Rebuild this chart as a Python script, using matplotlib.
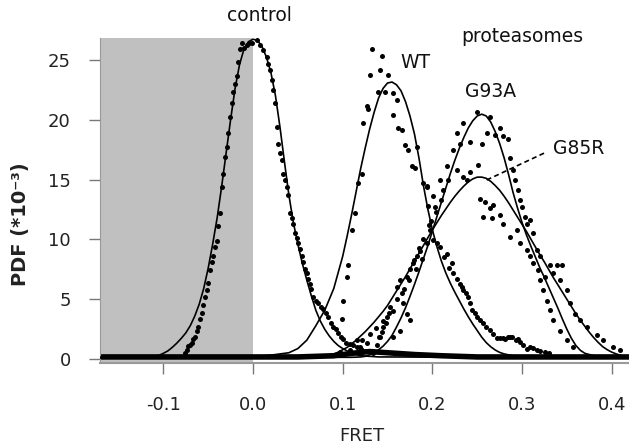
import matplotlib
matplotlib.use("Agg")
from matplotlib import pyplot as plt
from matplotlib.patches import Rectangle

# fitted curves (FRET, PDF*1e-3)
control_fit_x = [-0.170, -0.120, -0.110, -0.105, -0.100, -0.095, -0.090, -0.085, -0.080, -0.075,
                 -0.070, -0.065, -0.060, -0.055, -0.050, -0.045, -0.040, -0.035, -0.030, -0.025,
                 -0.020, -0.015, -0.010, -0.005, 0.000, 0.005, 0.010, 0.015, 0.020, 0.025,
                 0.030, 0.035, 0.040, 0.045, 0.050, 0.055, 0.060, 0.065, 0.070, 0.075,
                 0.080, 0.085, 0.090, 0.095, 0.100, 0.110, 0.120, 0.140, 0.419]
control_fit_y = [0.15, 0.2, 0.25, 0.33, 0.5, 0.7, 1.0, 1.35, 1.75, 2.2,
                 2.8, 3.6, 4.6, 5.9, 7.6, 9.6, 11.8, 14.4, 17.2, 20.0,
                 22.6, 24.6, 25.9, 26.5, 26.7, 26.6, 26.1, 25.2, 23.9, 22.0,
                 19.4, 16.5, 13.7, 11.4, 9.6, 8.0, 6.6, 5.3, 4.1, 3.2,
                 2.5, 1.95, 1.5, 1.15, 0.9, 0.5, 0.3, 0.2, 0.15]

wt_fit_x = [-0.170, 0.000, 0.020, 0.040, 0.050, 0.060, 0.070, 0.080, 0.090, 0.100,
            0.105, 0.110, 0.115, 0.120, 0.125, 0.130, 0.135, 0.140, 0.145, 0.150,
            0.155, 0.160, 0.165, 0.170, 0.175, 0.180, 0.185, 0.190, 0.195, 0.200,
            0.205, 0.210, 0.215, 0.220, 0.225, 0.230, 0.235, 0.240, 0.245, 0.250,
            0.255, 0.260, 0.265, 0.270, 0.275, 0.280, 0.290, 0.300, 0.419]
wt_fit_y = [0.15, 0.2, 0.35, 0.55, 0.9, 1.6, 2.8, 4.1, 5.9, 8.6,
            10.3, 12.1, 14.0, 15.9, 17.6, 19.2, 20.6, 21.8, 22.6, 23.05,
            23.13, 22.9, 22.4, 21.5, 20.3, 18.8, 16.8, 14.5, 12.5, 10.8,
            9.4, 8.2, 7.2, 6.35, 5.6, 4.9, 4.2, 3.55, 2.95, 2.4,
            1.85, 1.4, 1.05, 0.78, 0.58, 0.45, 0.3, 0.22, 0.15]

g93a_fit_x = [-0.170, 0.110, 0.120, 0.125, 0.130, 0.135, 0.140, 0.145, 0.150, 0.155,
              0.160, 0.165, 0.170, 0.175, 0.180, 0.185, 0.190, 0.195, 0.200, 0.205,
              0.210, 0.215, 0.220, 0.225, 0.230, 0.235, 0.240, 0.245, 0.250, 0.255,
              0.260, 0.265, 0.270, 0.275, 0.280, 0.285, 0.290, 0.295, 0.300, 0.305,
              0.310, 0.315, 0.320, 0.325, 0.330, 0.335, 0.340, 0.345, 0.350, 0.355,
              0.360, 0.365, 0.370, 0.380, 0.390, 0.419]
g93a_fit_y = [0.15, 0.17, 0.2, 0.25, 0.38, 0.55, 0.8, 1.1, 1.5, 2.0,
              2.7, 3.45, 4.3, 5.25, 6.25, 7.3, 8.4, 9.5, 10.7, 11.9,
              13.1, 14.3, 15.5, 16.6, 17.6, 18.5, 19.3, 19.9, 20.3, 20.45,
              20.3, 19.8, 19.0, 18.0, 16.8, 15.4, 13.9, 12.6, 11.4, 10.35,
              9.4, 8.5, 7.6, 6.8, 5.95, 5.1, 4.25, 3.35, 2.5, 1.75,
              1.15, 0.75, 0.5, 0.3, 0.2, 0.15]

g85r_fit_x = [-0.170, 0.060, 0.080, 0.085, 0.090, 0.095, 0.100, 0.105, 0.110, 0.115,
              0.120, 0.125, 0.130, 0.135, 0.140, 0.145, 0.150, 0.155, 0.160, 0.165,
              0.170, 0.175, 0.180, 0.185, 0.190, 0.195, 0.200, 0.205, 0.210, 0.215,
              0.220, 0.225, 0.230, 0.235, 0.240, 0.245, 0.250, 0.255, 0.260, 0.265,
              0.270, 0.275, 0.280, 0.285, 0.290, 0.295, 0.300, 0.305, 0.310, 0.315,
              0.320, 0.325, 0.330, 0.335, 0.340, 0.345, 0.350, 0.355, 0.360, 0.365,
              0.370, 0.375, 0.380, 0.385, 0.390, 0.395, 0.400, 0.405, 0.410, 0.415,
              0.419]
g85r_fit_y = [0.15, 0.18, 0.25, 0.33, 0.45, 0.6, 0.8, 1.0, 1.3, 1.6,
              1.95, 2.3, 2.7, 3.1, 3.55, 4.0, 4.5, 5.1, 5.7, 6.3,
              6.9, 7.55, 8.2, 8.85, 9.5, 10.15, 10.8, 11.4, 12.0, 12.55,
              13.1, 13.6, 14.05, 14.45, 14.8, 15.05, 15.2, 15.2, 15.1, 14.85,
              14.5, 14.1, 13.6, 13.05, 12.45, 11.85, 11.25, 10.65, 10.0, 9.35,
              8.7, 8.1, 7.45, 6.8, 6.2, 5.6, 5.0, 4.4, 3.8, 3.25,
              2.75, 2.25, 1.8, 1.4, 1.05, 0.8, 0.6, 0.45, 0.33, 0.25,
              0.2]

# measured histogram points
control_x = [-0.0758, -0.0739, -0.0721, -0.0700, -0.0683, -0.0666, -0.0647, -0.0628, -0.0610,
             -0.0591, -0.0572, -0.0554, -0.0535, -0.0516, -0.0498, -0.0479, -0.0461, -0.0443,
             -0.0424, -0.0405, -0.0387, -0.0368, -0.0349, -0.0331, -0.0312, -0.0293, -0.0275,
             -0.0256, -0.0237, -0.0220, -0.0200, -0.0182, -0.0164, -0.0145, -0.0126, -0.0100,
             -0.0070, -0.0040, -0.0014, 0.0041, 0.0078, 0.0115, 0.0153, 0.0170, 0.0190, 0.0208,
             0.0226, 0.0245, 0.0264, 0.0282, 0.0301, 0.0320, 0.0338, 0.0357, 0.0376, 0.0394,
             0.0412, 0.0430, 0.0449, 0.0468, 0.0487, 0.0505, 0.0525, 0.0543, 0.0562, 0.0580,
             0.0600, 0.0617, 0.0635, 0.0650, 0.0672, 0.0700, 0.0725, 0.0760, 0.0784, 0.0810,
             0.0836, 0.0870, 0.0895, 0.0920, 0.0948, 0.0980, 0.1007, 0.1040, 0.1081, 0.1120,
             0.1156, 0.1200, 0.1250, 0.1341]
control_y = [0.5, 0.78, 1.1, 1.2, 1.33, 1.7, 1.9, 2.4, 2.7,
             3.4, 3.9, 4.5, 5.2, 5.8, 6.4, 7.45, 8.1, 8.6, 9.4,
             9.9, 11.1, 12.2, 14.4, 15.5, 16.9, 17.7, 18.85, 20.2,
             21.35, 22.3, 23.0, 23.6, 24.8, 25.9, 26.35, 26.0, 26.2,
             26.4, 26.35, 26.6, 26.2, 25.8, 25.2, 24.6, 24.1, 23.3,
             22.5, 21.35, 19.4, 18.0, 17.2, 16.6, 15.5, 15.0, 14.4, 13.7,
             12.2, 11.8, 11.3, 10.5, 10.1, 9.7, 9.2, 8.6, 8.1, 7.5,
             7.2, 6.7, 6.3, 5.9, 5.2, 4.9, 4.7, 4.4, 4.2, 3.9,
             3.5, 3.0, 2.7, 2.5, 2.2, 1.9, 1.7, 1.4, 1.3, 1.2,
             1.05, 0.85, 0.7, 0.5]

wt_x = [0.1323, 0.1435, 0.1304, 0.1416, 0.1508, 0.1397, 0.1472, 0.1564, 0.1602, 0.1268,
        0.1282, 0.1230, 0.1564, 0.1620, 0.1658, 0.1695, 0.1731, 0.1825, 0.1769, 0.1806,
        0.1899, 0.1936, 0.1212, 0.1174, 0.1137, 0.1100, 0.1062, 0.1045, 0.1007, 0.0989,
        0.1950, 0.1980, 0.2010, 0.2048, 0.2159, 0.2215, 0.2233, 0.2308, 0.2345, 0.2400,
        0.2438, 0.2494, 0.2567, 0.2642, 0.2717, 0.2790, 0.2840, 0.2884, 0.2930, 0.2977,
        0.3051, 0.3088, 0.3163, 0.3255, 0.2085, 0.2125, 0.2190, 0.2270, 0.2325, 0.2370,
        0.2420, 0.2470, 0.2530, 0.2600, 0.2680, 0.2750, 0.2810, 0.2870, 0.2950, 0.3010,
        0.3120, 0.3200, 0.3300]
wt_y = [25.9, 25.3, 23.7, 24.1, 23.7, 22.3, 22.3, 22.2, 21.6, 21.1,
        20.9, 19.7, 20.4, 19.3, 19.1, 17.9, 17.5, 17.7, 16.1, 16.0,
        14.7, 14.5, 15.5, 14.7, 12.2, 10.8, 7.9, 6.9, 4.9, 3.4,
        12.8, 11.5, 9.95, 9.7, 8.8, 8.0, 7.2, 6.3, 5.8, 5.2,
        4.1, 3.55, 3.0, 2.44, 1.75, 1.75, 1.85, 1.9, 1.6, 1.47,
        0.9, 1.0, 0.8, 0.6, 9.4, 8.5, 7.6, 6.7, 6.0, 5.5,
        4.7, 3.9, 3.3, 2.7, 2.1, 1.8, 1.7, 1.9, 1.7, 1.2,
        0.95, 0.7, 0.5]

g93a_x = [0.2494, 0.2345, 0.2642, 0.2754, 0.2605, 0.2698, 0.2790, 0.2846, 0.2419, 0.2550,
          0.2271, 0.2233, 0.2308, 0.2865, 0.2902, 0.2921, 0.2958, 0.2977, 0.2995, 0.3032,
          0.3051, 0.2159, 0.2177, 0.2085, 0.2122, 0.2010, 0.2029, 0.1936, 0.3236, 0.3274,
          0.3311, 0.3348, 0.3423, 0.3497, 0.3571, 0.3163, 0.3181, 0.3200, 0.3255, 0.3125,
          0.3088, 0.3051, 0.2977, 0.1639, 0.1713, 0.1602, 0.1527, 0.1491, 0.1453, 0.1416,
          0.1676, 0.1713, 0.1750, 0.1639, 0.1564, 0.1380, 0.1440, 0.1480, 0.1560, 0.1660,
          0.1750, 0.1800, 0.1850, 0.1900, 0.1960, 0.2040, 0.2100]
g93a_y = [20.65, 19.7, 20.2, 19.3, 18.85, 18.7, 18.6, 18.4, 18.1, 18.0,
          18.85, 17.5, 18.0, 16.8, 15.8, 15.0, 14.1, 13.3, 12.7, 11.9,
          11.3, 16.1, 15.0, 15.0, 14.1, 13.6, 12.7, 14.4, 5.8, 4.9,
          4.1, 3.3, 2.4, 1.6, 1.05, 9.1, 7.45, 6.6, 6.9, 8.0,
          8.6, 9.1, 9.7, 6.6, 6.9, 6.05, 4.4, 3.55, 2.7, 1.9,
          4.7, 3.8, 3.3, 2.4, 1.9, 1.2, 2.3, 3.0, 4.0, 5.5,
          7.5, 8.3, 9.3, 10.0, 11.2, 12.3, 13.3]

g85r_x = [0.2345, 0.2419, 0.2512, 0.2271, 0.2382, 0.2531, 0.2587, 0.2642, 0.2679, 0.2567,
          0.2661, 0.2754, 0.2790, 0.2865, 0.2940, 0.3088, 0.3125, 0.3200, 0.3311, 0.3385,
          0.3442, 0.3348, 0.3423, 0.3497, 0.3534, 0.3590, 0.3645, 0.3720, 0.3831, 0.3905,
          0.4017, 0.4091, 0.1787, 0.1825, 0.1862, 0.1936, 0.1973, 0.1268, 0.1193, 0.1081,
          0.0970, 0.1156, 0.1400, 0.1220, 0.1300, 0.1370, 0.1450, 0.1520, 0.1600, 0.1680,
          0.1740, 0.1820, 0.1880]
g85r_y = [15.2, 15.6, 16.2, 15.8, 15.0, 13.4, 13.1, 12.6, 12.9, 11.9,
          11.8, 12.0, 11.3, 10.2, 10.8, 11.6, 10.5, 8.6, 7.9, 7.9,
          7.9, 7.2, 6.6, 5.8, 4.7, 3.8, 3.3, 2.7, 2.0, 1.6,
          1.05, 0.8, 8.0, 8.6, 9.0, 9.7, 10.8, 1.33, 1.05, 0.78,
          0.63, 1.6, 1.9, 1.6, 2.1, 2.6, 3.2, 3.9, 5.0, 5.9,
          6.6, 7.5, 8.4]

# thick band of near-zero points along the bottom
base_x = [-0.170, 0.050, 0.090, 0.110, 0.130, 0.150, 0.180, 0.210, 0.250, 0.419]
base_y = [0.2, 0.2, 0.3, 0.5, 0.65, 0.55, 0.4, 0.3, 0.2, 0.2]

xticks = [-0.1, 0.0, 0.1, 0.2, 0.3, 0.4]
xtick_labels = ["-0.1", "0.0", "0.1", "0.2", "0.3", "0.4"]
yticks = [0, 5, 10, 15, 20, 25]

fig = plt.figure(figsize=(6.29, 4.47), dpi=100)
ax = fig.add_axes([0.159, 0.1886, 0.841, 0.737])
ax.set_xlim(-0.1706, 0.4192)
ax.set_ylim(-0.28, 27.2)

ax.add_patch(Rectangle((-0.1706, -0.28), 0.1706, 27.08, facecolor="#c0c0c0",
                       edgecolor="none", zorder=0))

ax.plot(base_x, base_y, color="black", lw=4, zorder=2)
for fx, fy in [(control_fit_x, control_fit_y), (wt_fit_x, wt_fit_y),
               (g93a_fit_x, g93a_fit_y), (g85r_fit_x, g85r_fit_y)]:
    ax.plot(fx, fy, color="black", lw=1.2, zorder=3)
for px, py in [(control_x, control_y), (wt_x, wt_y), (g93a_x, g93a_y), (g85r_x, g85r_y)]:
    ax.plot(px, py, "o", color="black", ms=3.6, mew=0, zorder=4)

ax.plot([0.2605, 0.3274], [14.96, 17.3], color="black", lw=1.2, ls=(0, (3, 2)))

tkw = dict(fontsize=13.5, va="center", ha="left", color="#111111", clip_on=False)
ax.text(-0.0293, 28.7, "control", **tkw)
ax.text(0.2327, 26.9, "proteasomes", **tkw)
ax.text(0.164, 24.8, "WT", **tkw)
ax.text(0.236, 22.3, "G93A", **tkw)
ax.text(0.3345, 17.6, "G85R", **tkw)

for s in ["top", "right"]:
    ax.spines[s].set_visible(False)
ax.spines["left"].set_color("#999999")
ax.spines["left"].set_bounds(-0.28, 26.8)
ax.spines["bottom"].set_color("#999999")
ax.spines["bottom"].set_linewidth(1.5)

ax.set_xticks(xticks)
ax.set_xticklabels(xtick_labels)
ax.set_yticks(yticks)
ax.tick_params(axis="x", direction="out", length=8, width=1, color="#777777",
               pad=16, labelsize=13, labelcolor="#222222")
ax.tick_params(axis="y", direction="out", length=8, width=1, color="#777777",
               pad=13, labelsize=13, labelcolor="#222222")

ax.set_xlabel("FRET", fontsize=13, color="#222222")
ax.xaxis.set_label_coords(0.495, -0.195)
ax.set_ylabel("PDF (*10⁻³)", fontsize=14, fontweight="bold", color="#222222")
ax.yaxis.set_label_coords(-0.132, 0.42)

fig.savefig("out.png", dpi=100)
